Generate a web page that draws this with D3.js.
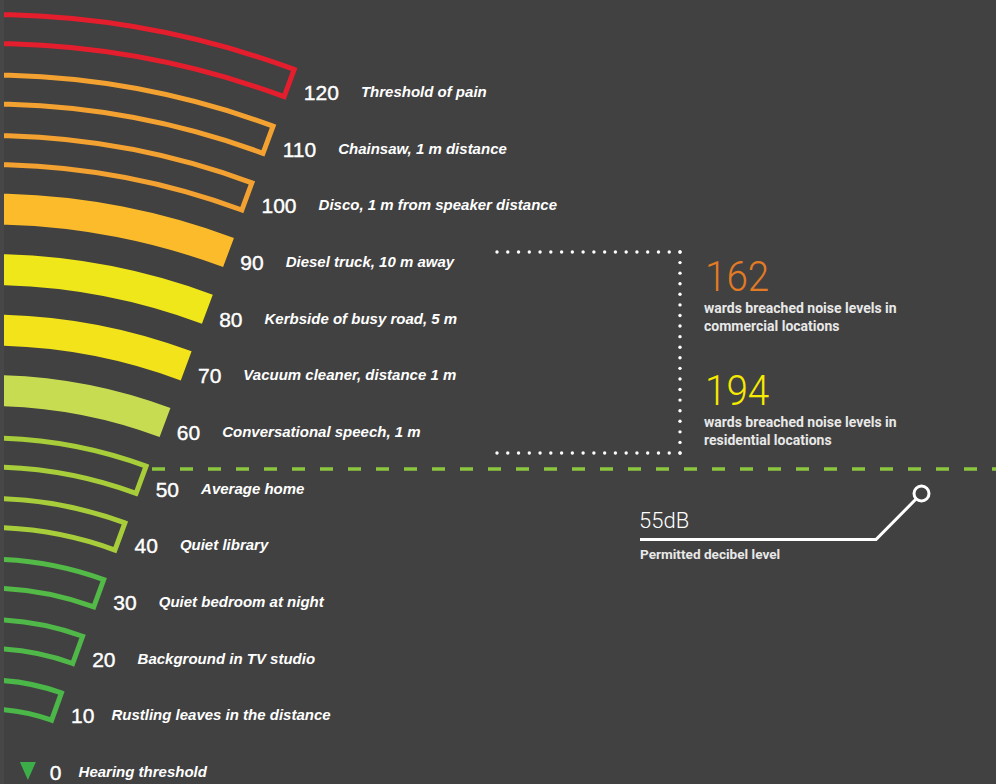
<!DOCTYPE html>
<html><head><meta charset="utf-8">
<script src="https://cdn.jsdelivr.net/npm/d3@7"></script>
<style>
html,body{margin:0;padding:0;background:#414141;}
svg{display:block;}
</style></head>
<body>
<svg id="chart" width="996" height="784"></svg>
<script>
// ---------- DATA ----------
const levels = [120, 110, 100, 90, 80, 70, 60, 50, 40, 30, 20, 10];
const descriptions = [
  "Threshold of pain",
  "Chainsaw, 1 m distance",
  "Disco, 1 m from speaker distance",
  "Diesel truck, 10 m away",
  "Kerbside of busy road, 5 m",
  "Vacuum cleaner, distance 1 m",
  "Conversational speech, 1 m",
  "Average home",
  "Quiet library",
  "Quiet bedroom at night",
  "Background in TV studio",
  "Rustling leaves in the distance"
];
const zeroLevel = 0;
const zeroDescription = "Hearing threshold";
const statValues = [162, 194];
const statLines = [
  ["wards breached noise levels in", "commercial locations"],
  ["wards breached noise levels in", "residential locations"]
];
const permittedLevel = 55;
const permittedLabel = "Permitted decibel level";

// ---------- STYLE ----------
const bg = "#414141";
const bandColors = ["#e51e2e", "#f3a232", "#f3a232", "#fbbb2b", "#f0e71a", "#f2e31b",
                    "#c8dc52", "#a8cd3a", "#a8cd3a", "#53b947", "#4fb848", "#4ab748"];
const filledLevels = [90, 80, 70, 60];
const statColors = ["#e27b24", "#f6ea00"];
const zeroColor = "#3cae49";

const svg = d3.select("#chart");
svg.append("rect").attr("width", 996).attr("height", 784).attr("fill", bg);
svg.append("rect").attr("width", 4).attr("height", 784).attr("fill", "#474747");

// geometry of the concentric "sound wave" bands
const cx = -12.5, cy = 898;
const endAngle = Math.atan2(233, 624);
const rScale = d3.scaleLinear().domain([10, 120]).range([220.5, 886]);
const bandThick = 31, sw = 5;

svg.append("defs").append("clipPath").attr("id", "clipL")
  .append("rect").attr("x", 4).attr("y", 0).attr("width", 992).attr("height", 784);

const g = svg.append("g").attr("clip-path", "url(#clipL)")
  .append("g").attr("transform", `translate(${cx},${cy})`);

const arc = d3.arc();
levels.forEach((v, i) => {
  const R = rScale(v);
  const filled = filledLevels.includes(v);
  if (filled) {
    g.append("path")
      .attr("d", arc({innerRadius: R - bandThick, outerRadius: R, startAngle: -0.3, endAngle: endAngle}))
      .attr("fill", bandColors[i]);
  } else {
    const ro = R - sw / 2, ri = R - 34 + sw / 2;
    g.append("path")
      .attr("d", arc({innerRadius: ri, outerRadius: ro, startAngle: -0.3, endAngle: endAngle - (sw / 2) / ro}))
      .attr("fill", "none").attr("stroke", bandColors[i]).attr("stroke-width", sw)
      .attr("stroke-linejoin", "miter");
  }
});

// labels along the radial end line
function anchor(v) {
  const r = rScale(v) - 16;
  return [cx + r * Math.sin(endAngle) + 12, cy - r * Math.cos(endAngle) + 17];
}
const labelData = levels.map((v, i) => ({v, d: descriptions[i]}))
  .concat([{v: zeroLevel, d: zeroDescription}]);

labelData.forEach(o => {
  const [x, y] = anchor(o.v);
  const num = svg.append("text").attr("x", x).attr("y", y)
    .attr("font-family", "Liberation Sans, Arial, sans-serif").attr("font-size", 21)
    .attr("fill", "#ffffff").attr("stroke", "#ffffff").attr("stroke-width", 0.4)
    .text(o.v);
  const w = num.node().getComputedTextLength();
  const dx = x + w + (o.v <= 10 ? 17 : 22);
  svg.append("text")
    .attr("x", dx).attr("y", y - 3)
    .attr("font-family", "Liberation Sans, Arial, sans-serif").attr("font-size", 15)
    .attr("font-weight", "bold").attr("font-style", "italic")
    .attr("fill", "#ffffff").text(o.d);
  if (o.v === zeroLevel) {
    const tx = x - 22;
    svg.append("path")
      .attr("d", `M${tx - 8},${y - 18}L${tx + 8},${y - 18}L${tx},${y}Z`)
      .attr("fill", zeroColor);
  }
});

// permitted level dashed line
svg.append("line").attr("x1", 152).attr("x2", 996).attr("y1", 469).attr("y2", 469)
  .attr("stroke", "#8cc63f").attr("stroke-width", 3.5).attr("stroke-dasharray", "13,15");

// dotted bracket
function dots(x1, y1, x2, y2, n) {
  d3.range(n + 1).forEach(k => {
    svg.append("circle").attr("cx", x1 + (x2 - x1) * k / n).attr("cy", y1 + (y2 - y1) * k / n)
      .attr("r", 1.7).attr("fill", "#ffffff");
  });
}
dots(497, 252, 680, 252, 17);
dots(680, 252, 680, 453, 19);
dots(497, 453, 680, 453, 17);

// stats
const statY = [291, 405];
statValues.forEach((s, i) => {
  svg.append("text")
    .attr("transform", `translate(705,${statY[i]}) scale(0.92,1)`)
    .attr("font-family", "Roboto, Liberation Sans, sans-serif").attr("font-weight", 300)
    .attr("font-size", 42).attr("fill", statColors[i]).text(s);
  statLines[i].forEach((t, j) => {
    svg.append("text")
      .attr("x", 704).attr("y", statY[i] + 22 + j * 18)
      .attr("font-family", "Roboto, Liberation Sans, sans-serif").attr("font-weight", 700)
      .attr("font-size", 14).attr("fill", "#e8e8e8").text(t);
  });
});

// 55dB annotation
svg.append("text").attr("x", 639).attr("y", 528)
  .attr("font-family", "Roboto, Liberation Sans, sans-serif").attr("font-weight", 300)
  .attr("font-size", 22).attr("fill", "#ffffff").text(permittedLevel + "dB");
svg.append("path").attr("d", "M640,539.5H876L921.5,493.5")
  .attr("fill", "none").attr("stroke", "#ffffff").attr("stroke-width", 3);
svg.append("circle").attr("cx", 921.5).attr("cy", 493.5).attr("r", 7.5)
  .attr("fill", bg).attr("stroke", "#ffffff").attr("stroke-width", 3);
svg.append("text")
  .attr("x", 640).attr("y", 559)
  .attr("font-family", "Roboto, Liberation Sans, sans-serif").attr("font-weight", 700)
  .attr("font-size", 13.6).attr("fill", "#e8e8e8").text(permittedLabel);
</script>
</body></html>
